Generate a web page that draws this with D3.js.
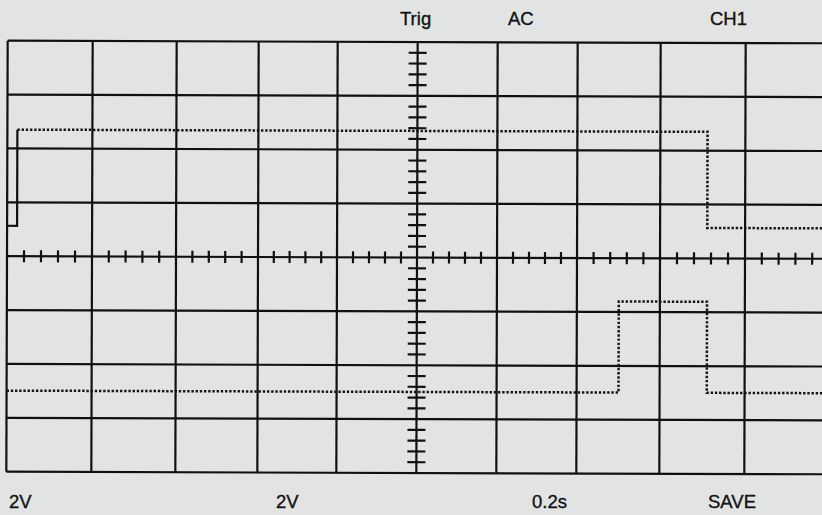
<!DOCTYPE html>
<html>
<head>
<meta charset="utf-8">
<script src="https://cdn.jsdelivr.net/npm/d3@7/dist/d3.min.js"></script>
<style>
  html, body { margin: 0; padding: 0; background: #e2e4e3; }
  svg { display: block; }
  text { font-family: "Liberation Sans", Arial, sans-serif; fill: #121212; stroke: #121212; stroke-width: 0.35px; }
</style>
</head>
<body>
<svg id="chart" width="822" height="515"></svg>
<script>
// ---- Data ----
const topLabels = ["Trig", "AC", "CH1"];
const bottomLabels = ["2V", "2V", "0.2s", "SAVE"];
const timeDivs = [0, 0.2, 0.4, 0.6, 0.8, 1.0, 1.2, 1.4, 1.6, 1.8, 2.0]; // seconds (0.2 s/div)
const voltDivs = [-8, -6, -4, -2, 0, 2, 4, 6, 8];                    // volts (2 V/div)

// CH1 trace (time s, volts)
const ch1Times = [0, 0.0235, 0.0235, 1.711, 1.711, 2.0];
const ch1Volts = [1.13, 1.13, 4.70, 4.70, 1.13, 1.13];
// second trace
const ch2Times = [0, 1.501, 1.501, 1.711, 1.711, 2.0];
const ch2Volts = [-4.99, -4.99, -1.61, -1.61, -4.99, -4.99];

// ---- Layout ----
const svg = d3.select("#chart");
const gridPx = [7, 92, 176, 258, 337, 417, 497, 577, 660, 745, 829];
const x = d3.scaleLinear().domain(timeDivs).range(gridPx);
const y = d3.scaleLinear().domain([-8, 8]).range([473, 42]);

const screen = svg.append("g").attr("transform", "rotate(0.18 417 258)");
const ink = "#101010";

// grid lines
screen.append("g").selectAll("line.v").data(timeDivs).join("line")
  .attr("x1", d => x(d)).attr("x2", d => x(d))
  .attr("y1", y(8)).attr("y2", y(-8))
  .attr("stroke", ink).attr("stroke-width", 2.2);
screen.append("g").selectAll("line.h").data(voltDivs).join("line")
  .attr("x1", x(0)).attr("x2", x(2.0))
  .attr("y1", d => y(d)).attr("y2", d => y(d))
  .attr("stroke", ink).attr("stroke-width", 2.2);

// minor ticks on center axes (5 subdivisions per division)
const xMinor = d3.range(0, 50).map(i => i * 0.04).filter((d, i) => i % 5 !== 0);
const yMinor = d3.range(0, 40).map(i => -8 + i * 0.4).filter((d, i) => i % 5 !== 0);
screen.append("g").selectAll("line").data(xMinor).join("line")
  .attr("x1", d => x(d)).attr("x2", d => x(d))
  .attr("y1", y(0) - 6).attr("y2", y(0) + 6)
  .attr("stroke", ink).attr("stroke-width", 2.2);
screen.append("g").selectAll("line").data(yMinor).join("line")
  .attr("x1", x(1.0) - 9).attr("x2", x(1.0) + 9)
  .attr("y1", d => y(d)).attr("y2", d => y(d))
  .attr("stroke", ink).attr("stroke-width", 2.2);

// traces
const line = d3.line().x(d => x(d[0])).y(d => y(d[1]));
const ch1 = ch1Times.map((t, i) => [t, ch1Volts[i]]);
const ch2 = ch2Times.map((t, i) => [t, ch2Volts[i]]);

// CH1: initial step drawn solid, remainder dotted
screen.append("path").datum(ch1.slice(0, 3))
  .attr("d", line).attr("fill", "none")
  .attr("stroke", ink).attr("stroke-width", 2.2);
screen.append("path").datum(ch1.slice(2))
  .attr("d", line).attr("fill", "none")
  .attr("stroke", "#161616").attr("stroke-width", 2.5)
  .attr("stroke-dasharray", "2.4,1.8");
screen.append("path").datum(ch2)
  .attr("d", line).attr("fill", "none")
  .attr("stroke", "#161616").attr("stroke-width", 2.5)
  .attr("stroke-dasharray", "2.4,1.8");

// labels
const topX = [400, 508, 710];
svg.append("g").selectAll("text").data(topLabels).join("text")
  .attr("x", (d, i) => topX[i]).attr("y", 25)
  .attr("font-size", 18.5).text(d => d);
const botX = [9, 276, 532, 708];
svg.append("g").selectAll("text").data(bottomLabels).join("text")
  .attr("x", (d, i) => botX[i]).attr("y", 508)
  .attr("font-size", 18.5).text(d => d);
</script>
</body>
</html>
